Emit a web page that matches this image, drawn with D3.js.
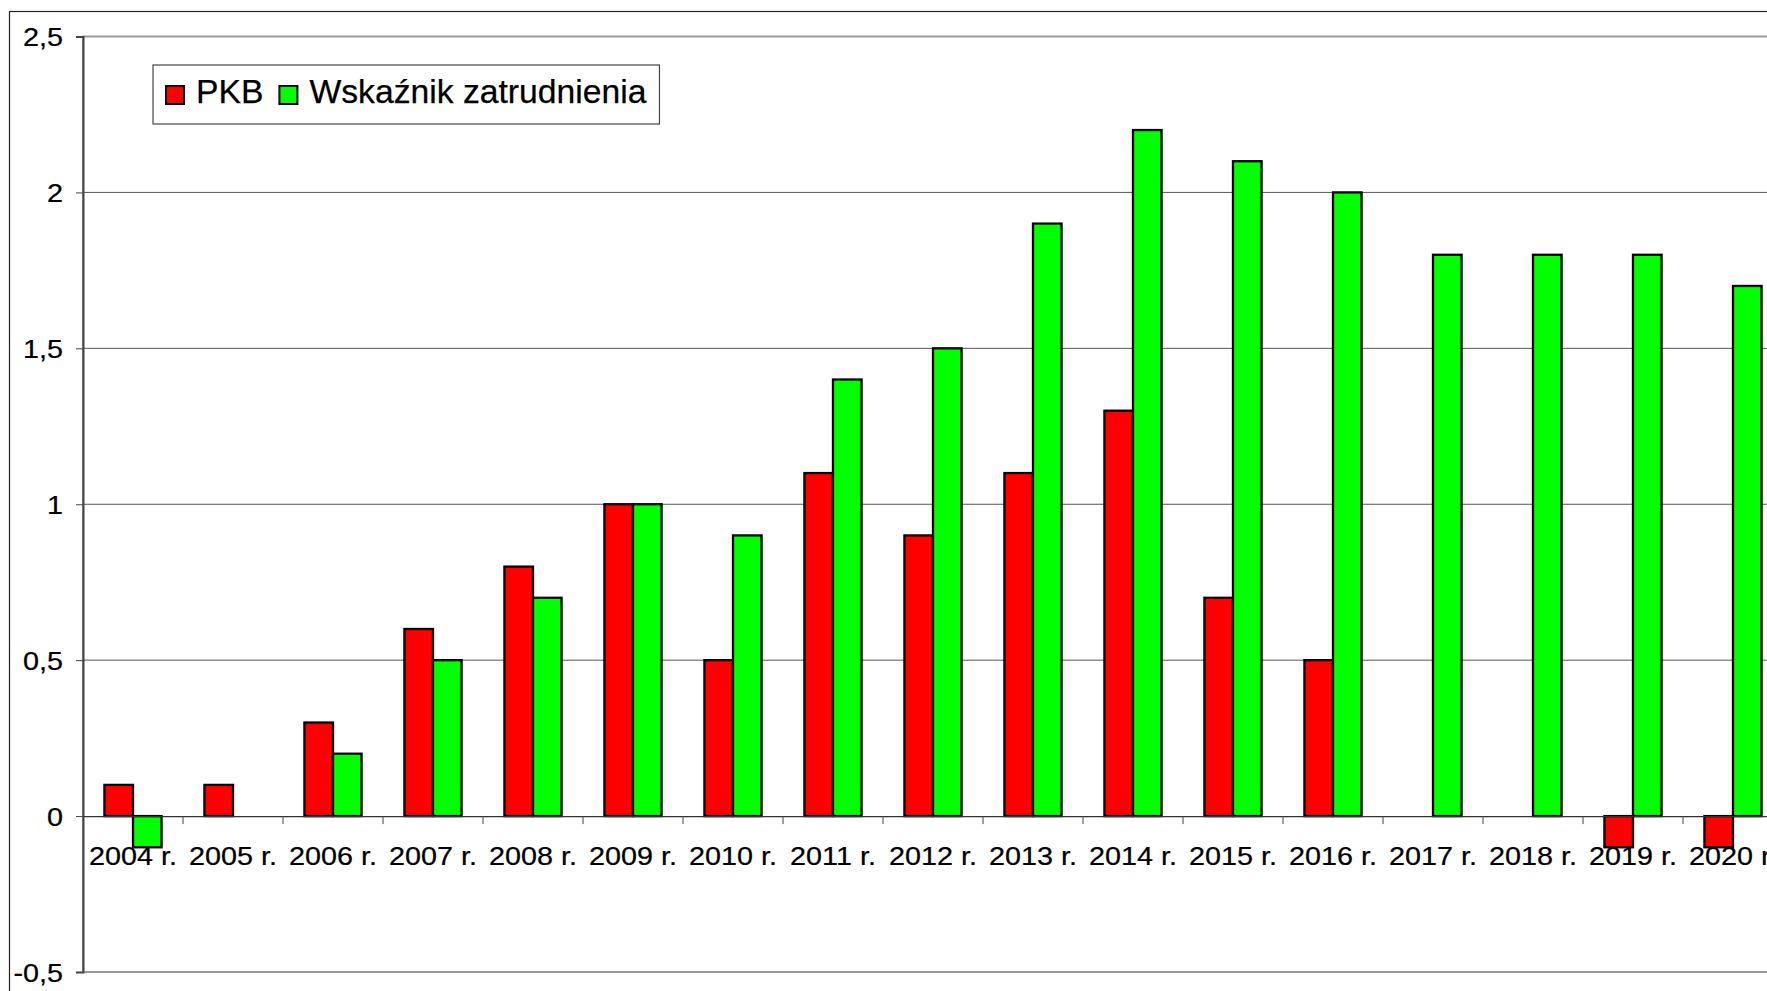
<!DOCTYPE html>
<html>
<head>
<meta charset="utf-8">
<script src="https://cdn.jsdelivr.net/npm/d3@7"></script>
<style>
  body { margin: 0; background: #fff; }
  svg { display: block; font-family: "Liberation Sans", Arial, sans-serif; }
</style>
</head>
<body>
<svg id="chart" width="1767" height="991"></svg>
<script>
// data
const years = ['2004 r.', '2005 r.', '2006 r.', '2007 r.', '2008 r.', '2009 r.', '2010 r.', '2011 r.', '2012 r.',
  '2013 r.', '2014 r.', '2015 r.', '2016 r.', '2017 r.', '2018 r.', '2019 r.', '2020 r.'];
const seriesNames = ['PKB', 'Wskaźnik zatrudnienia'];
const pkb = [0.1, 0.1, 0.3, 0.6, 0.8, 1.0, 0.5, 1.1, 0.9, 1.1, 1.3, 0.7, 0.5, 0, 0, -0.1, -0.1];
const zatrudnienie = [-0.1, 0, 0.2, 0.5, 0.7, 1.0, 0.9, 1.4, 1.5, 1.9, 2.2, 2.1, 2.0, 1.8, 1.8, 1.8, 1.7];
const yTicks = [-0.5, 0, 0.5, 1, 1.5, 2, 2.5];
const colors = ['#ff0000', '#00ff00'];

const svg = d3.select('#chart');
const plotLeft = 83, plotTop = 36.5, plotBottom = 972;
const plotRight = plotLeft + years.length * 100; // plot runs past the window edge
const stretch = 1.15; // axis text in the picture is a bit wide
const axisFont = 25;

const x0 = d3.scaleBand().domain(years).range([plotLeft, plotRight]);
const x1 = d3.scaleBand().domain(seriesNames).range([0, x0.bandwidth()]).paddingInner(0).paddingOuter(0.75);
const y = d3.scaleLinear().domain([-0.5, 2.5]).range([plotBottom, plotTop]);

// outer chart frame
svg.append('rect')
  .attr('x', 9.5).attr('y', 11.5)
  .attr('width', 1900).attr('height', 1100)
  .attr('fill', 'none').attr('stroke', '#222').attr('stroke-width', 1.2);

// gridlines
svg.append('g').selectAll('line')
  .data(yTicks.filter(d => d > -0.5 && d < 2.5 && d !== 0))
  .enter().append('line')
  .attr('x1', plotLeft).attr('x2', plotRight)
  .attr('y1', d => y(d)).attr('y2', d => y(d))
  .attr('stroke', '#555').attr('stroke-width', 1);

// plot area border
svg.append('rect')
  .attr('x', plotLeft).attr('y', plotTop)
  .attr('width', plotRight - plotLeft).attr('height', plotBottom - plotTop)
  .attr('fill', 'none').attr('stroke', '#999').attr('stroke-width', 2);

// bars
const rows = years.map((yr, i) => ({ year: yr, values: [pkb[i], zatrudnienie[i]] }));
svg.append('g').selectAll('g')
  .data(rows)
  .enter().append('g')
  .attr('transform', d => `translate(${x0(d.year)},0)`)
  .selectAll('rect')
  .data(d => d.values.map((v, k) => ({ name: seriesNames[k], v: v, k: k })).filter(e => e.v !== 0))
  .enter().append('rect')
  .attr('x', d => x1(d.name))
  .attr('width', x1.bandwidth())
  .attr('y', d => y(Math.max(0, d.v)))
  .attr('height', d => Math.abs(y(d.v) - y(0)))
  .attr('fill', d => colors[d.k])
  .attr('stroke', '#000').attr('stroke-width', 2.3);

// y axis
const yAxis = svg.append('g')
  .attr('transform', `translate(${plotLeft},0)`)
  .call(d3.axisLeft(y).tickValues(yTicks).tickSize(7).tickFormat(d => String(d).replace('.', ',')));
yAxis.select('.domain').attr('stroke', '#444').attr('stroke-width', 2);
yAxis.selectAll('.tick line').attr('stroke', '#444');
yAxis.selectAll('text')
  .attr('x', -20 / stretch).attr('dy', '0.36em')
  .attr('transform', `scale(${stretch},1)`)
  .attr('font-size', axisFont).attr('font-family', '"Liberation Sans", Arial, sans-serif')
  .attr('fill', '#000').attr('stroke', '#000').attr('stroke-width', 0.25);

// x axis at zero
const xAxis = svg.append('g')
  .attr('transform', `translate(0,${y(0)})`)
  .call(d3.axisBottom(x0).tickSize(0).tickPadding(0));
xAxis.select('.domain').attr('stroke', '#333').attr('stroke-width', 1.2);
xAxis.selectAll('.tick text')
  .attr('y', 0).attr('dy', 48.5)
  .attr('transform', `scale(${stretch},1)`)
  .attr('font-size', axisFont).attr('font-family', '"Liberation Sans", Arial, sans-serif')
  .attr('fill', '#000').attr('stroke', '#000').attr('stroke-width', 0.25);
// category boundary ticks
svg.append('g').selectAll('line')
  .data(years.slice(1))
  .enter().append('line')
  .attr('x1', d => x0(d)).attr('x2', d => x0(d))
  .attr('y1', y(0)).attr('y2', y(0) + 8)
  .attr('stroke', '#444');

// legend
const legend = svg.append('g').attr('transform', 'translate(153,65)');
const legendBox = legend.append('rect')
  .attr('height', 59).attr('fill', '#fff').attr('stroke', '#444').attr('stroke-width', 1.2);
let lx = 13;
seriesNames.forEach((name, k) => {
  legend.append('rect')
    .attr('x', lx).attr('y', 21).attr('width', 18).attr('height', 18)
    .attr('fill', colors[k]).attr('stroke', '#000').attr('stroke-width', 2);
  const t = legend.append('text')
    .attr('x', lx + 30).attr('y', 38)
    .attr('font-size', 33.7).attr('fill', '#000').attr('stroke', '#000').attr('stroke-width', 0.25)
    .text(name);
  lx += 30 + t.node().getComputedTextLength() + 16;
});
legendBox.attr('width', lx - 3);
</script>
</body>
</html>
